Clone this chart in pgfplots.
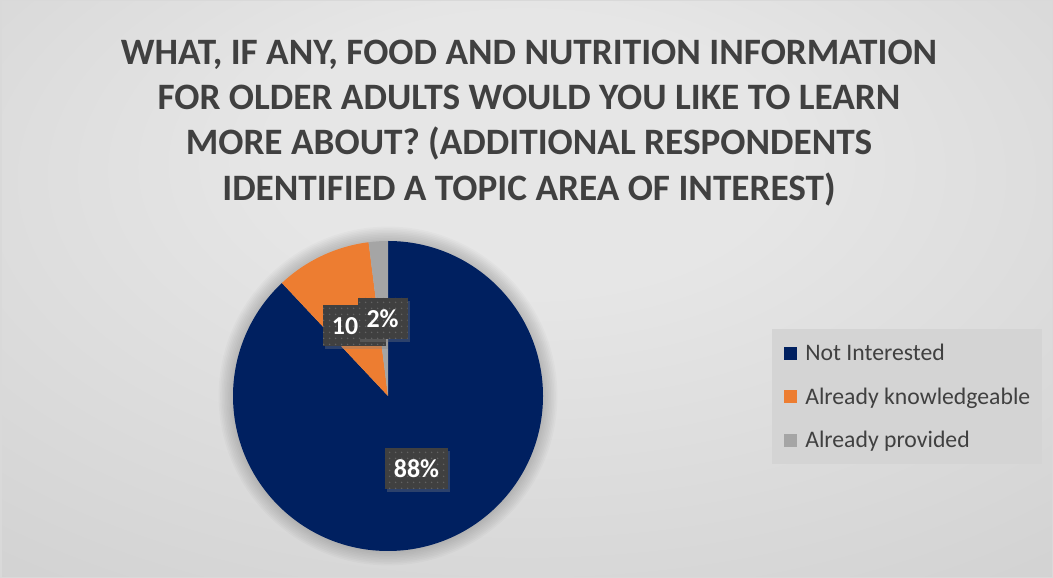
\documentclass[border=0pt]{standalone}
\usepackage{pgfplots}
\pgfplotsset{compat=1.18}
\usepackage{pgfplotstable}
\usepackage{fontspec}
\setmainfont{Carlito}
\usetikzlibrary{shadows,patterns.meta}
\definecolor{navy}{HTML}{002060}
\definecolor{orng}{HTML}{ED7D31}
\definecolor{gry}{HTML}{A5A5A5}
\definecolor{txt}{HTML}{404040}
\definecolor{bgA}{HTML}{E6E6E6}
\definecolor{bgB}{HTML}{C8C8C8}
\definecolor{bgC}{HTML}{B4B2B2}
\definecolor{legbg}{HTML}{D4D4D4}
\definecolor{frame}{HTML}{D9D9D9}

\pgfplotstableread{
label value
NotInterested 88
Knowledgeable 10
Provided 2
}\piedata

\pgfdeclareradialshading{bgshade}{\pgfpoint{0bp}{14bp}}{color(0bp)=(bgA); color(12bp)=(bgA); color(55bp)=(bgB); color(75bp)=(bgC)}

\begin{document}
\begin{tikzpicture}[
  lbl/.style={fill=txt, text=white, font=\fontsize{26}{30}\selectfont\bfseries,
    inner xsep=9bp, minimum height=41bp,
    drop shadow={shadow xshift=2bp, shadow yshift=-3bp, opacity=0.35},
    postaction={pattern={Dots[radius=0.9bp, distance=6bp]}, pattern color=white!18!txt}}]
\useasboundingbox (0,0) rectangle (1053bp,578bp);
\shade[shading=bgshade] (0,0) rectangle (1053bp,578bp);
\draw[frame, line width=1.5bp] (0.75bp,0.75bp) rectangle (1052.25bp,577.25bp);
\node[align=center, text=txt, font=\fontsize{37.4}{45.3}\selectfont\bfseries] at (529bp,455bp)
  {WHAT, IF ANY, FOOD AND NUTRITION INFORMATION\\FOR OLDER ADULTS WOULD YOU LIKE TO LEARN\\MORE ABOUT? (ADDITIONAL RESPONDENTS\\IDENTIFIED A TOPIC AREA OF INTEREST)};

\pgfplotstablegetelem{0}{value}\of\piedata\xdef\vA{\pgfplotsretval}
\pgfplotstablegetelem{1}{value}\of\piedata\xdef\vB{\pgfplotsretval}
\pgfplotstablegetelem{2}{value}\of\piedata\xdef\vC{\pgfplotsretval}
\pgfmathsetmacro\aA{90}\global\let\aA\aA
\pgfmathsetmacro\aB{\aA-3.6*\vA}\global\let\aB\aB
\pgfmathsetmacro\aC{\aB-3.6*\vB}\global\let\aC\aC
\pgfmathsetmacro\aD{\aC-3.6*\vC}\global\let\aD\aD

\begin{axis}[hide axis, x=155bp, y=155bp, xmin=-1, xmax=1, ymin=-1, ymax=1,
  at={(388bp,182bp)}, anchor=center, clip=false,
  legend cell align=left,
  legend image code/.code={\fill[#1, draw=none] (0bp,-6.5bp) rectangle (13bp,6.5bp);},
  legend style={at={(1.739,0.716)}, anchor=north west, fill=legbg, draw=none,
    font=\fontsize{23.8}{28}\selectfont, text=txt,
    inner xsep=12bp, inner ysep=15bp, row sep=25.5bp,
    nodes={inner sep=0pt},
    /tikz/every odd column/.style={column sep=8bp}},
]
\addlegendimage{fill=navy}
\addlegendentry{Not Interested}
\addlegendimage{fill=orng}
\addlegendentry{Already knowledgeable}
\addlegendimage{fill=gry}
\addlegendentry{Already provided}

\pgfplotsinvokeforeach{1,...,9}{
  \fill[black, opacity=0.02] (axis cs:0,0) circle[radius={155bp+#1*1.6bp}];
}
\fill[navy] (axis cs:0,0) -- (axis cs:{cos(\aA)},{sin(\aA)}) arc[start angle=\aA, end angle=\aB, radius=155bp] -- cycle;
\fill[orng] (axis cs:0,0) -- (axis cs:{cos(\aB)},{sin(\aB)}) arc[start angle=\aB, end angle=\aC, radius=155bp] -- cycle;
\fill[gry] (axis cs:0,0) -- (axis cs:{cos(\aC)},{sin(\aC)}) arc[start angle=\aC, end angle=\aD, radius=155bp] -- cycle;

\node[lbl] at (axis cs:-0.216,0.455) {10\%};
\node[lbl] at (axis cs:-0.035,0.500) {2\%};
\node[lbl] at (axis cs:0.184,-0.468) {88\%};
\end{axis}
\end{tikzpicture}
\end{document}
